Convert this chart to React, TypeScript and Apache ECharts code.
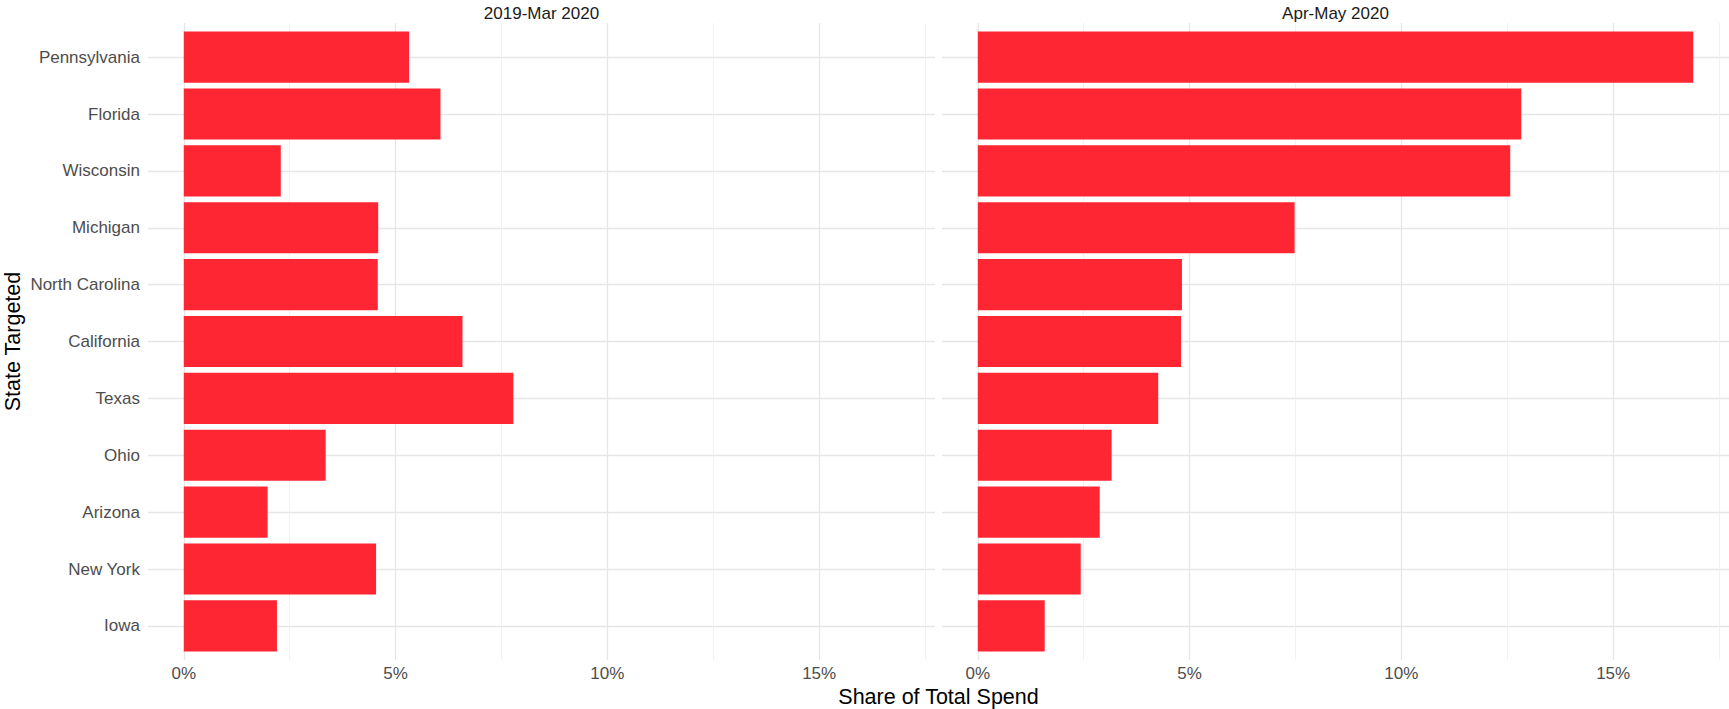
import React, { useEffect, useRef } from 'react';
import * as echarts from 'echarts';

const states = ['Pennsylvania', 'Florida', 'Wisconsin', 'Michigan', 'North Carolina', 'California', 'Texas', 'Ohio', 'Arizona', 'New York', 'Iowa'];
const panelTitles = ['2019-Mar 2020', 'Apr-May 2020'];
const sharePre = [5.32, 6.06, 2.29, 4.59, 4.58, 6.58, 7.78, 3.35, 1.98, 4.54, 2.2];
const sharePost = [16.89, 12.83, 12.57, 7.48, 4.82, 4.8, 4.26, 3.16, 2.88, 2.43, 1.58];
const xTitle = 'Share of Total Spend';
const yTitle = 'State Targeted';

const FONT = '"Liberation Sans", Arial, Helvetica, sans-serif';
const BAR = '#FF2633';
const GRID_MAJOR = '#e6e6e6';
const GRID_MINOR = '#eeeeee';

export default function App() {
  const ref = useRef<HTMLDivElement>(null);
  useEffect(() => {
    if (!ref.current) return;
    const chart = echarts.init(ref.current, undefined, { renderer: 'svg' });
    const maxVal = Math.max(...sharePre, ...sharePost);
    const xMin = -maxVal * 0.05;
    const xMax = maxVal * 1.05;
    const panels = [sharePre, sharePost];
    const lefts = [148, 942];
    const W = 787;
    const top = 23;
    const H = 637;

    const option: any = {
      animation: false,
      backgroundColor: '#ffffff',
      grid: lefts.map((l) => ({ left: l, top, width: W, height: H, containLabel: false })),
      xAxis: panels.map((_, i) => ({
        type: 'value',
        gridIndex: i,
        min: xMin,
        max: xMax,
        splitNumber: 4,
        minInterval: 5,
        maxInterval: 5,
        axisLine: { show: false },
        axisTick: { show: false },
        axisLabel: {
          showMinLabel: false,
          showMaxLabel: false,
          formatter: (v: number) => (Math.abs(v % 5) < 1e-9 ? `${v}%` : ''),
          color: '#4d4d4d',
          fontSize: 17,
          fontFamily: FONT,
          margin: 5,
        },
        splitLine: {
          show: true,
          showMinLine: false,
          showMaxLine: false,
          lineStyle: { color: GRID_MAJOR, width: 1.3 },
        },
        minorTick: { show: false, splitNumber: 2 },
        minorSplitLine: { show: true, lineStyle: { color: GRID_MINOR, width: 0.8 } },
      })),
      yAxis: panels.map((_, i) => ({
        type: 'value',
        gridIndex: i,
        inverse: true,
        min: 0.4,
        max: states.length + 0.6,
        splitNumber: states.length,
        minInterval: 1,
        maxInterval: 1,
        axisLine: { show: false },
        axisTick: { show: false },
        axisLabel: {
          show: i === 0,
          showMinLabel: false,
          showMaxLabel: false,
          formatter: (v: number) => (Number.isInteger(v) && v >= 1 && v <= states.length ? states[v - 1] : ''),
          color: '#4d4d4d',
          fontSize: 17,
          fontFamily: FONT,
          margin: 8,
        },
        splitLine: {
          show: true,
          showMinLine: false,
          showMaxLine: false,
          lineStyle: { color: GRID_MAJOR, width: 1.3 },
        },
      })),
      series: panels.map((vals, i) => ({
        type: 'custom',
        xAxisIndex: i,
        yAxisIndex: i,
        encode: { x: 0, y: 1 },
        data: vals.map((v, j) => [v, j + 1]),
        renderItem: (params: any, api: any) => {
          const v = api.value(0);
          const idx = api.value(1);
          const s = api.coord([0, idx]);
          const e = api.coord([v, idx]);
          const h = Math.abs(api.size([0, 0.9])[1]);
          return {
            type: 'rect',
            shape: { x: s[0], y: s[1] - h / 2, width: e[0] - s[0], height: h },
            style: { fill: BAR },
          };
        },
      })),
      graphic: [
        ...panelTitles.map((t, i) => ({
          type: 'text',
          x: lefts[i] + W / 2,
          y: 13,
          style: {
            text: t,
            fill: '#1a1a1a',
            fontSize: 17,
            fontFamily: FONT,
            textAlign: 'center',
            textVerticalAlign: 'middle',
            verticalAlign: 'middle',
          },
        })),
        {
          type: 'text',
          x: (lefts[0] + lefts[1] + W) / 2,
          y: 697,
          style: {
            text: xTitle,
            fill: '#000000',
            fontSize: 21.5,
            fontFamily: FONT,
            textAlign: 'center',
            textVerticalAlign: 'middle',
            verticalAlign: 'middle',
          },
        },
        {
          type: 'text',
          x: 13,
          y: top + H / 2,
          rotation: Math.PI / 2,
          style: {
            text: yTitle,
            fill: '#000000',
            fontSize: 21.5,
            fontFamily: FONT,
            textAlign: 'center',
            textVerticalAlign: 'middle',
            verticalAlign: 'middle',
          },
        },
      ],
    };
    chart.setOption(option);
    return () => chart.dispose();
  }, []);
  return (
    <div
      ref={ref}
      style={{ position: 'fixed', left: 0, top: 0, width: 1729, height: 709, background: '#fff' }}
    />
  );
}
